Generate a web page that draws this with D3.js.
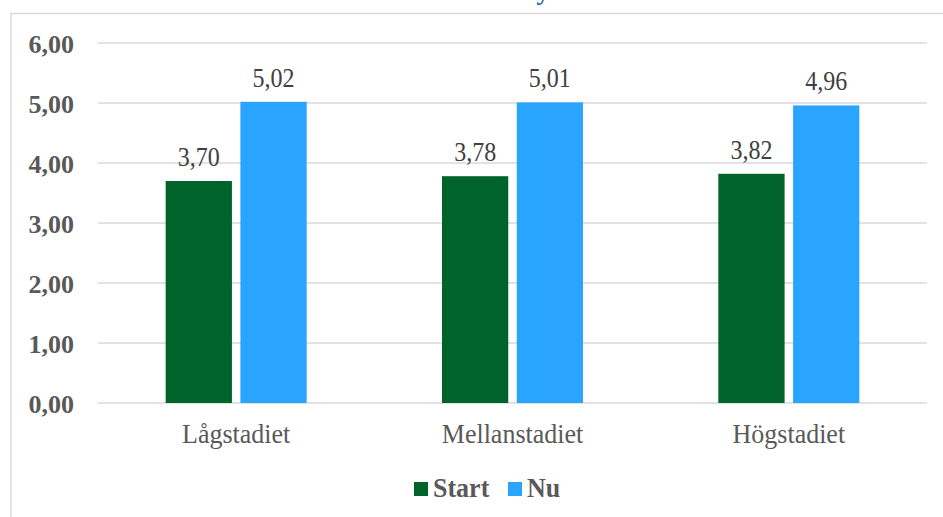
<!DOCTYPE html>
<html><head><meta charset="utf-8">
<script src="https://cdn.jsdelivr.net/npm/d3@7"></script>
<style>body{margin:0;background:#fff}svg{display:block}</style>
</head><body><svg id="c" width="943" height="517"></svg>
<script>
const categories = ["Lågstadiet", "Mellanstadiet", "Högstadiet"];
const seriesNames = ["Start", "Nu"];
const startValues = [3.70, 3.78, 3.82];
const nuValues = [5.02, 5.01, 4.96];
const yTicks = [0, 1, 2, 3, 4, 5, 6];
const colors = ["#006329", "#2aa5ff"];

const svg = d3.select("#c");
const W = 943, H = 517;
const m = {left: 98, right: 16, top: 43, bottom: 114};
const fmt = v => d3.format(".2f")(v).replace(".", ",");
const FONT = '"Liberation Serif"';

// frame
svg.append("rect").attr("x", 11).attr("y", 13.5).attr("width", 960).attr("height", 560)
  .attr("fill", "#fff").attr("stroke", "#d9d9d9").attr("stroke-width", 1.5);

// clipped title fragment (title sits above the visible area in the reference)
svg.append("text").attr("x", 543).attr("y", 0).attr("text-anchor", "middle")
  .style("font-family", FONT).attr("font-weight", "bold").attr("font-size", 26)
  .attr("fill", "#1565b0").text("y");

const x = d3.scaleBand().domain(categories).range([m.left, W - m.right]);
const y = d3.scaleLinear().domain([0, 6]).range([H - m.bottom, m.top]);
const inner = d3.scaleBand().domain(seriesNames).range([0, 141]).paddingInner(16 / 141);

// gridlines
svg.append("g").selectAll("line").data(yTicks).join("line")
  .attr("x1", m.left).attr("x2", W - m.right)
  .attr("y1", d => y(d)).attr("y2", d => y(d))
  .attr("stroke", "#d9d9d9").attr("stroke-width", 1.5);

// y axis labels
const yAxis = d3.axisLeft(y).tickValues(yTicks).tickFormat(fmt).tickSize(0).tickPadding(24);
const ga = svg.append("g").attr("transform", `translate(${m.left},0)`).call(yAxis);
ga.select(".domain").remove();
ga.selectAll("text").style("font-family", FONT).attr("font-weight", "bold").attr("dy", "0.36em")
  .attr("font-size", 26).attr("fill", "#595959");

// x axis labels
const xAxis = d3.axisBottom(x).tickSize(0);
const gx = svg.append("g").attr("transform", `translate(0,${y(0)})`).call(xAxis);
gx.select(".domain").remove();
gx.selectAll("text").style("font-family", FONT).attr("font-size", 26).attr("fill", "#595959")
  .attr("y", 0).attr("dy", 0).attr("transform", "translate(0,40) scale(1,1.07)");

const data = categories.map((c, i) => ({c, vals: [startValues[i], nuValues[i]]}));
const groups = svg.append("g").selectAll("g").data(data).join("g")
  .attr("transform", d => `translate(${x(d.c) + x.bandwidth() / 2 - 70.5},0)`);
const items = d => d.vals.map((v, j) => ({v, s: seriesNames[j], j}));
groups.selectAll("rect").data(items).join("rect")
  .attr("x", d => inner(d.s)).attr("width", inner.bandwidth())
  .attr("y", d => y(d.v)).attr("height", d => y(0) - y(d.v))
  .attr("fill", d => colors[d.j]);
groups.selectAll("text").data(items).join("text")
  .attr("transform", d => `translate(${inner(d.s) + inner.bandwidth() / 2},${y(d.v) - 15}) scale(1,1.15)`)
  .attr("text-anchor", "middle").style("font-family", FONT).attr("font-size", 24)
  .attr("fill", "#404040").text(d => fmt(d.v));

// legend
const leg = svg.append("g").attr("transform", "translate(414,482)");
const legX = [0, 94];
seriesNames.forEach((s, i) => {
  const g = leg.append("g").attr("transform", `translate(${legX[i]},0)`);
  g.append("rect").attr("width", 14).attr("height", 14).attr("fill", colors[i]);
  g.append("text").attr("transform", "translate(19,14.5) scale(1,1.05)")
    .style("font-family", FONT).attr("font-weight", "bold").attr("font-size", 26)
    .attr("fill", "#595959").text(s);
});
</script></body></html>
